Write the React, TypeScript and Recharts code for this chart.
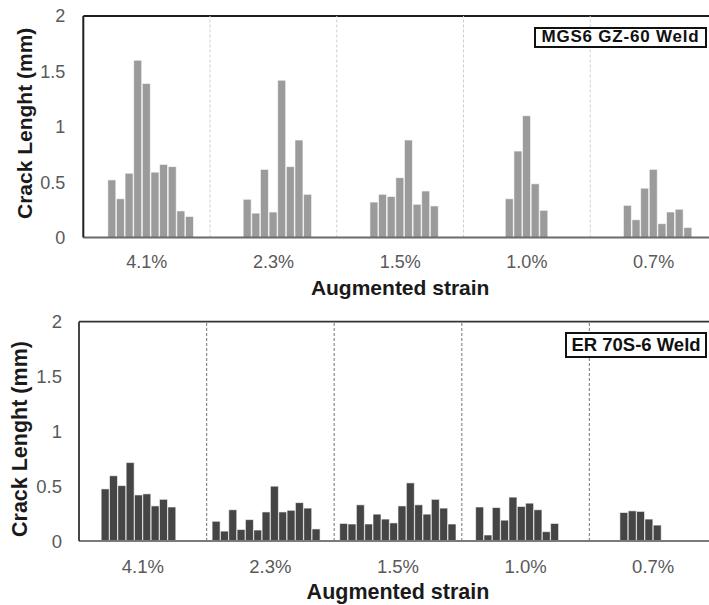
import { Bar, BarChart, Label, ReferenceLine, XAxis, YAxis } from 'recharts';

const STRAINS = ['4.1%', '2.3%', '1.5%', '1.0%', '0.7%'];
const Y_TICKS = [0, 0.5, 1, 1.5, 2];

// MGS6 GZ-60 weld, 13 bar slots per strain (null = empty slot)
const MGS6_41 = [null, null, 0.52, 0.35, 0.58, 1.6, 1.39, 0.59, 0.66, 0.64, 0.24, 0.19, null];
const MGS6_23 = [null, null, null, 0.345, 0.22, 0.615, 0.23, 1.42, 0.64, 0.88, 0.39, null, null];
const MGS6_15 = [null, null, null, 0.32, 0.39, 0.37, 0.54, 0.88, 0.3, 0.42, 0.285, null, null];
const MGS6_10 = [null, null, null, null, 0.35, 0.78, 1.1, 0.485, 0.245, null, null, null, null];
const MGS6_07 = [null, null, null, 0.29, 0.16, 0.445, 0.615, 0.125, 0.23, 0.255, 0.09, null, null];

// ER 70S-6 weld, 14 bar slots per strain
const ER70_41 = [null, null, 0.475, 0.595, 0.505, 0.715, 0.42, 0.43, 0.32, 0.38, 0.31, null, null, null];
const ER70_23 = [0.18, 0.09, 0.285, 0.105, 0.195, 0.1, 0.265, 0.5, 0.265, 0.28, 0.35, 0.3, 0.11, null];
const ER70_15 = [0.16, 0.155, 0.33, 0.155, 0.245, 0.2, 0.165, 0.32, 0.53, 0.33, 0.245, 0.38, 0.3, 0.155];
const ER70_10 = [null, 0.31, 0.055, 0.305, 0.19, 0.4, 0.315, 0.345, 0.285, 0.085, 0.16, null, null, null];
const ER70_07 = [null, null, null, 0.26, 0.275, 0.27, 0.2, 0.145, null, null, null, null, null, null];

const FONT = "'Liberation Sans', Arial, sans-serif";

type Slot = number | null;

const toRows = (groups: Slot[][]) =>
  STRAINS.map((strain, g) => {
    const row: Record<string, string | Slot> = { strain };
    groups[g].forEach((v, i) => {
      row[`s${i}`] = v;
    });
    return row;
  });

type PanelProps = {
  rows: Record<string, string | Slot>[];
  slots: number;
  top: number;
  plotTop: number;
  yWidth: number;
  marginBottom: number;
  catGap: number;
  barGap: number;
  fill: string;
  tickSize: number;
  titleSize: number;
  xTickMargin: number;
  yTickMargin: number;
  xTitleOffset: number;
  yTitleX: number;
  yTitleShift: number;
  frame: string;
  frameWidth: number;
  base: string;
  sepColor: string;
  sepWidth: number;
  tag: string;
  tagBox: { left: number; top: number; width: number; height: number; size: number; spacing: number };
};

function Panel(p: PanelProps) {
  const tick = { fill: '#595959', fontSize: p.tickSize, fontFamily: FONT };
  return (
    <div style={{ position: 'absolute', left: 0, top: p.top, width: 720, height: 305 }}>
      <BarChart
        width={720}
        height={305}
        data={p.rows}
        margin={{ top: p.plotTop, right: 3, left: 0, bottom: p.marginBottom }}
        barCategoryGap={p.catGap}
        barGap={p.barGap}
      >
        <XAxis
          dataKey="strain"
          height={60}
          tick={tick}
          tickLine={false}
          tickSize={0}
          tickMargin={p.xTickMargin}
          axisLine={{ stroke: p.base, strokeWidth: 2 }}
        >
          <Label
            content={({ viewBox }: any) => (
              <text
                x={viewBox.x + viewBox.width / 2}
                y={viewBox.y + viewBox.height - p.xTitleOffset}
                textAnchor="middle"
                fontFamily={FONT}
                fontWeight="bold"
                fontSize={p.titleSize}
                fill="#1a1a1a"
              >
                Augmented strain
              </text>
            )}
          />
        </XAxis>
        <YAxis
          width={p.yWidth}
          domain={[0, 2]}
          ticks={Y_TICKS}
          tick={tick}
          tickLine={false}
          tickSize={0}
          tickMargin={p.yTickMargin}
          axisLine={{ stroke: p.frame, strokeWidth: p.frameWidth }}
        >
          <Label
            content={({ viewBox }: any) => {
              const cy = viewBox.y + viewBox.height / 2 + p.yTitleShift;
              return (
                <text
                  x={p.yTitleX}
                  y={cy}
                  transform={`rotate(-90, ${p.yTitleX}, ${cy})`}
                  textAnchor="middle"
                  dominantBaseline="central"
                  fontFamily={FONT}
                  fontWeight="bold"
                  fontSize={p.titleSize}
                  fill="#1a1a1a"
                >
                  Crack Lenght (mm)
                </text>
              );
            }}
          />
        </YAxis>
        {/* top edge of the plot frame */}
        <ReferenceLine y={2} stroke={p.frame} strokeWidth={p.frameWidth} />
        {STRAINS.slice(1).map((s) => (
          <ReferenceLine
            key={s}
            x={s}
            position="start"
            stroke={p.sepColor}
            strokeWidth={p.sepWidth}
            strokeDasharray="3 2"
          />
        ))}
        {Array.from({ length: p.slots }, (_, i) => (
          <Bar
            key={i}
            dataKey={`s${i}`}
            fill={p.fill}
            stroke="#ffffff"
            strokeWidth={0.6}
            isAnimationActive={false}
          />
        ))}
      </BarChart>
      <div
        style={{
          position: 'absolute',
          left: p.tagBox.left,
          top: p.tagBox.top - p.top,
          width: p.tagBox.width,
          height: p.tagBox.height,
          boxSizing: 'border-box',
          border: '2px solid #111',
          background: '#fff',
          display: 'flex',
          alignItems: 'center',
          justifyContent: 'center',
          fontFamily: FONT,
          fontWeight: 'bold',
          fontSize: p.tagBox.size,
          letterSpacing: p.tagBox.spacing,
          color: '#111',
          whiteSpace: 'nowrap',
        }}
      >
        {p.tag}
      </div>
    </div>
  );
}

export default function App() {
  const mgsRows = toRows([MGS6_41, MGS6_23, MGS6_15, MGS6_10, MGS6_07]);
  const erRows = toRows([ER70_41, ER70_23, ER70_15, ER70_10, ER70_07]);

  return (
    <div
      style={{
        position: 'fixed',
        left: 0,
        top: 0,
        width: 709,
        height: 605,
        overflow: 'hidden',
        background: '#fff',
      }}
    >
      <Panel
        rows={mgsRows}
        slots={13}
        top={0}
        plotTop={16}
        yWidth={83.3}
        marginBottom={7.5}
        catGap={7.25}
        barGap={0.63}
        fill="#9b9b9b"
        tickSize={18}
        titleSize={21}
        xTickMargin={18}
        yTickMargin={18}
        xTitleOffset={2.5}
        yTitleX={25}
        yTitleShift={-3.4}
        frame="#1f1f1f"
        frameWidth={2}
        base="#6b6b6b"
        sepColor="#cfcfcf"
        sepWidth={1}
        tag="MGS6 GZ-60 Weld"
        tagBox={{ left: 534, top: 26.7, width: 173, height: 21.6, size: 17, spacing: 0.8 }}
      />
      <Panel
        rows={erRows}
        slots={14}
        top={300}
        plotTop={21.7}
        yWidth={79}
        marginBottom={4}
        catGap={5.5}
        barGap={0.33}
        fill="#454545"
        tickSize={18.5}
        titleSize={21.5}
        xTickMargin={19}
        yTickMargin={17}
        xTitleOffset={2}
        yTitleX={20}
        yTitleShift={7.7}
        frame="#333333"
        frameWidth={1.8}
        base="#7a7a7a"
        sepColor="#8c8c8c"
        sepWidth={1.2}
        tag="ER 70S-6 Weld"
        tagBox={{ left: 565, top: 331.7, width: 142, height: 26.6, size: 18.5, spacing: 0 }}
      />
    </div>
  );
}
